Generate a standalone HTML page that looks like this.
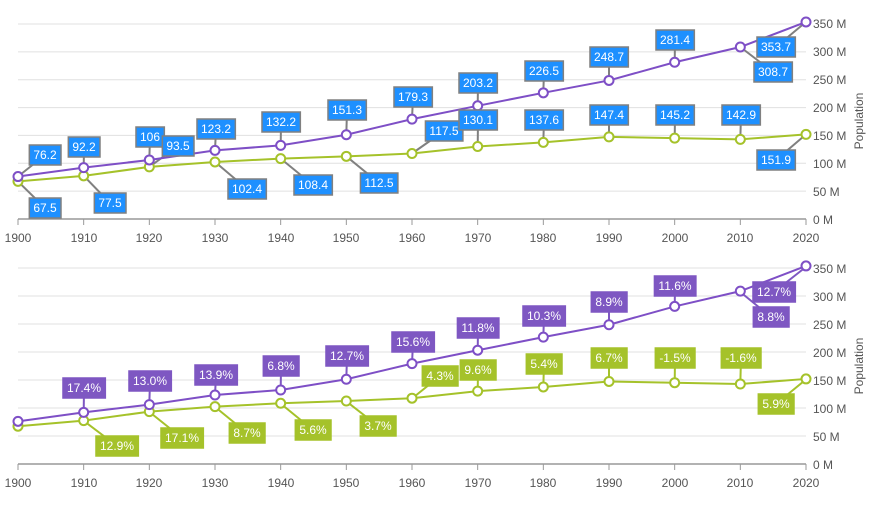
<!DOCTYPE html>
<html><head><meta charset="utf-8"><style>
html,body{margin:0;padding:0;background:#fff}
svg{display:block;font-family:"Liberation Sans",sans-serif}
.ax{font-size:12px;fill:#555}
.lb{font-size:12px;fill:#fff}
</style></head><body>
<svg id="s" width="880" height="512" viewBox="0 0 880 512">
<g id="grid"></g>
<g id="top">
<g stroke="#808080" stroke-width="2">
<line x1="18" y1="176.5" x2="45" y2="155"/><line x1="83.7" y1="167.6" x2="84" y2="147"/>
<line x1="149.3" y1="159.9" x2="150" y2="137"/><line x1="215" y1="150.4" x2="216" y2="129"/>
<line x1="280.7" y1="145.4" x2="281" y2="122"/><line x1="346.3" y1="134.7" x2="347" y2="110"/>
<line x1="412" y1="119.1" x2="413" y2="97"/><line x1="477.7" y1="105.8" x2="478" y2="83"/>
<line x1="543.3" y1="92.8" x2="544" y2="71"/><line x1="609" y1="80.4" x2="609" y2="57"/>
<line x1="674.7" y1="62.2" x2="675" y2="40"/><line x1="740.3" y1="47" x2="773" y2="72"/>
<line x1="806" y1="21.9" x2="776" y2="47"/>
<line x1="18" y1="181.4" x2="45" y2="208"/><line x1="83.7" y1="175.8" x2="110" y2="203"/>
<line x1="149.3" y1="166.9" x2="178" y2="146"/><line x1="215" y1="161.9" x2="247" y2="189"/>
<line x1="280.7" y1="158.6" x2="313" y2="185"/><line x1="346.3" y1="156.3" x2="379" y2="183"/>
<line x1="412" y1="153.5" x2="444" y2="131"/><line x1="477.7" y1="146.5" x2="478" y2="120"/>
<line x1="543.3" y1="142.3" x2="544" y2="120"/><line x1="609" y1="136.9" x2="609" y2="115"/>
<line x1="674.7" y1="138.1" x2="675" y2="115"/><line x1="740.3" y1="139.4" x2="741" y2="115"/>
<line x1="806" y1="134.4" x2="776" y2="160"/>
</g>
</g>
<g id="bot">
<g stroke="#7e57c2" stroke-width="2">
<line x1="83.7" y1="412.6" x2="84" y2="388"/><line x1="149.3" y1="404.9" x2="150" y2="381"/>
<line x1="215" y1="395.4" x2="216" y2="375"/><line x1="280.7" y1="390.4" x2="281" y2="366"/>
<line x1="346.3" y1="379.7" x2="347" y2="356"/><line x1="412" y1="364.1" x2="413" y2="342"/>
<line x1="477.7" y1="350.8" x2="478" y2="328"/><line x1="543.3" y1="337.8" x2="544" y2="316"/>
<line x1="609" y1="325.4" x2="609" y2="302"/><line x1="674.7" y1="307.2" x2="675" y2="286"/>
<line x1="740.3" y1="292" x2="771" y2="317"/><line x1="806" y1="266.9" x2="774" y2="292"/>
</g>
<g stroke="#a5c22a" stroke-width="2">
<line x1="83.7" y1="420.8" x2="117" y2="446"/><line x1="149.3" y1="411.9" x2="182" y2="438"/>
<line x1="215" y1="406.9" x2="247" y2="433"/><line x1="280.7" y1="403.6" x2="313" y2="430"/>
<line x1="346.3" y1="401.3" x2="378" y2="426"/><line x1="412" y1="398.5" x2="440" y2="376"/>
<line x1="477.7" y1="391.5" x2="478" y2="370"/><line x1="543.3" y1="387.3" x2="544" y2="364"/>
<line x1="609" y1="381.9" x2="609" y2="358"/><line x1="674.7" y1="383.1" x2="675" y2="358"/>
<line x1="740.3" y1="384.4" x2="741" y2="358"/><line x1="806" y1="379.4" x2="776" y2="404"/>
</g>
</g>
<g id="labels">
<g class="lb" text-anchor="middle" data-f="#1e90ff" data-s="#808080">
<text x="45" y="159">76.2</text><text x="84" y="151">92.2</text><text x="150" y="141">106</text>
<text x="216" y="133">123.2</text><text x="281" y="126">132.2</text><text x="347" y="114">151.3</text>
<text x="413" y="101">179.3</text><text x="478" y="87">203.2</text><text x="544" y="75">226.5</text>
<text x="609" y="61">248.7</text><text x="675" y="44">281.4</text><text x="773" y="76">308.7</text>
<text x="776" y="51">353.7</text>
<text x="45" y="212">67.5</text><text x="110" y="207">77.5</text><text x="178" y="150">93.5</text>
<text x="247" y="193">102.4</text><text x="313" y="189">108.4</text><text x="379" y="187">112.5</text>
<text x="444" y="135">117.5</text><text x="478" y="124">130.1</text><text x="544" y="124">137.6</text>
<text x="609" y="119">147.4</text><text x="675" y="119">145.2</text><text x="741" y="119">142.9</text>
<text x="776" y="164">151.9</text>
</g>
<g class="lb" text-anchor="middle" data-f="#7e57c2" data-s="#7e57c2">
<text x="84" y="392">17.4%</text><text x="150" y="385">13.0%</text><text x="216" y="379">13.9%</text>
<text x="281" y="370">6.8%</text><text x="347" y="360">12.7%</text><text x="413" y="346">15.6%</text>
<text x="478" y="332">11.8%</text><text x="544" y="320">10.3%</text><text x="609" y="306">8.9%</text>
<text x="675" y="290">11.6%</text><text x="774" y="296">12.7%</text><text x="771" y="321">8.8%</text>
</g>
<g class="lb" text-anchor="middle" data-f="#a5c22a" data-s="#a5c22a">
<text x="117" y="450">12.9%</text><text x="182" y="442">17.1%</text><text x="247" y="437">8.7%</text>
<text x="313" y="434">5.6%</text><text x="378" y="430">3.7%</text><text x="440" y="380">4.3%</text>
<text x="478" y="374">9.6%</text><text x="544" y="368">5.4%</text><text x="609" y="362">6.7%</text>
<text x="675" y="362">-1.5%</text><text x="741" y="362">-1.6%</text><text x="776" y="408">5.9%</text>
</g>
</g>
<g class="ax">
<text x="18" y="242" text-anchor="middle">1900</text><text x="84" y="242" text-anchor="middle">1910</text><text x="149" y="242" text-anchor="middle">1920</text><text x="215" y="242" text-anchor="middle">1930</text><text x="281" y="242" text-anchor="middle">1940</text><text x="346" y="242" text-anchor="middle">1950</text><text x="412" y="242" text-anchor="middle">1960</text><text x="478" y="242" text-anchor="middle">1970</text><text x="543" y="242" text-anchor="middle">1980</text><text x="609" y="242" text-anchor="middle">1990</text><text x="675" y="242" text-anchor="middle">2000</text><text x="740" y="242" text-anchor="middle">2010</text><text x="806" y="242" text-anchor="middle">2020</text>
<text x="18" y="487" text-anchor="middle">1900</text><text x="84" y="487" text-anchor="middle">1910</text><text x="149" y="487" text-anchor="middle">1920</text><text x="215" y="487" text-anchor="middle">1930</text><text x="281" y="487" text-anchor="middle">1940</text><text x="346" y="487" text-anchor="middle">1950</text><text x="412" y="487" text-anchor="middle">1960</text><text x="478" y="487" text-anchor="middle">1970</text><text x="543" y="487" text-anchor="middle">1980</text><text x="609" y="487" text-anchor="middle">1990</text><text x="675" y="487" text-anchor="middle">2000</text><text x="740" y="487" text-anchor="middle">2010</text><text x="806" y="487" text-anchor="middle">2020</text>
<text x="813" y="28">350 M</text><text x="813" y="56">300 M</text><text x="813" y="84">250 M</text><text x="813" y="112">200 M</text><text x="813" y="140">150 M</text><text x="813" y="168">100 M</text><text x="813" y="196">50 M</text><text x="813" y="224">0 M</text>
<text x="813" y="273">350 M</text><text x="813" y="301">300 M</text><text x="813" y="329">250 M</text><text x="813" y="357">200 M</text><text x="813" y="385">150 M</text><text x="813" y="413">100 M</text><text x="813" y="441">50 M</text><text x="813" y="469">0 M</text>
<text transform="translate(863,121) rotate(-90)" text-anchor="middle">Population</text>
<text transform="translate(863,366) rotate(-90)" text-anchor="middle">Population</text>
</g>
</svg>
<script>
var NS="http://www.w3.org/2000/svg";
function el(t,a,p){var e=document.createElementNS(NS,t);for(var k in a)e.setAttribute(k,a[k]);(p||document.getElementById('s')).appendChild(e);return e;}
var grid=document.getElementById('grid');
[[219,0.5571],[464,0.56]].forEach(function(c){
 for(var v=50;v<=350;v+=50){var y=c[0]-v*c[1];el('line',{x1:18,x2:806,y1:y,y2:y,stroke:'#e0e0e0','stroke-width':1},grid);}
 el('line',{x1:18,x2:806,y1:c[0],y2:c[0],stroke:'#999','stroke-width':1.5},grid);
 for(var i=0;i<=12;i++){var x=18+i*65.667;el('line',{x1:x,x2:x,y1:c[0],y2:c[0]+6,stroke:'#999','stroke-width':1},grid);}
});
var P=[76.2,92.2,106,123.2,132.2,151.3,179.3,203.2,226.5,248.7,281.4,308.7,353.7];
var G=[67.5,77.5,93.5,102.4,108.4,112.5,117.5,130.1,137.6,147.4,145.2,142.9,151.9];
var lab=document.getElementById('labels');
[[219,0.5571],[464,0.56]].forEach(function(c){
 var g=el('g',{});document.getElementById('s').insertBefore(g,lab);
 [[G,'#a5c22a'],[P,'#7e4fc6']].forEach(function(sr){
  var pts=sr[0].map(function(v,i){return [18+i*65.667,c[0]-v*c[1]];});
  el('polyline',{points:pts.map(function(p){return p.join(',')}).join(' '),fill:'none',stroke:sr[1],'stroke-width':2},g);
  pts.forEach(function(p,i){el('circle',{cx:p[0],cy:p[1],r:4.5,fill:'#fff',stroke:sr[1],'stroke-width':2},g);});
 });
});
lab.querySelectorAll('g').forEach(function(g){
 var f=g.getAttribute('data-f'),s=g.getAttribute('data-s');
 g.querySelectorAll('text').forEach(function(t){
  var b=t.getBBox();
  var r=document.createElementNS(NS,'rect');
  r.setAttribute('x',b.x-4);r.setAttribute('y',b.y-3);r.setAttribute('width',b.width+8);r.setAttribute('height',b.height+6);
  r.setAttribute('fill',f);r.setAttribute('stroke',s);r.setAttribute('stroke-width',1.5);
  g.insertBefore(r,t);
 });
});
</script>
</body></html>
